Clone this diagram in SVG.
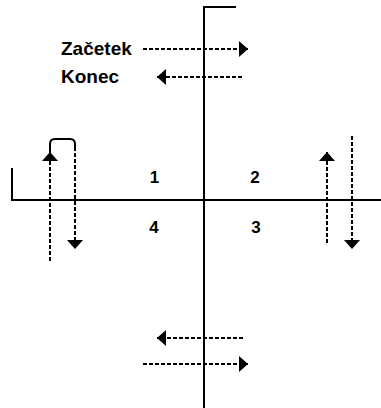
<svg xmlns="http://www.w3.org/2000/svg" width="381" height="408" viewBox="0 0 381 408">
<style>
.axis{stroke:#000;stroke-width:2;fill:none}
.dash{stroke:#000;stroke-width:2;fill:none;stroke-dasharray:4 2;marker-end:url(#ah)}
.plain{stroke:#000;stroke-width:2;fill:none}
.lbl{font-family:"Liberation Sans",Arial,sans-serif;font-weight:bold;fill:#000}
</style>
<defs>
<marker id="ah" markerUnits="userSpaceOnUse" markerWidth="10" markerHeight="17" refX="9" refY="8" orient="auto" viewBox="0 0 10 17">
<path d="M0,0 L9,8 L0,16 z" fill="#000"/>
</marker>
</defs>
<rect width="381" height="408" fill="#fff"/>
<g id="axes">
<path class="axis" d="M236,7 H204 V408"/>
<path class="axis" d="M12,168 V200 H381"/>
</g>
<g id="labels">
<text class="lbl" x="61" y="55" font-size="19">Začetek</text>
<text class="lbl" x="61" y="83" font-size="19">Konec</text>
</g>
<g id="q1"><text class="lbl" x="154.5" y="183" font-size="17" text-anchor="middle">1</text></g>
<g id="q2"><text class="lbl" x="255" y="183" font-size="17" text-anchor="middle">2</text></g>
<g id="q3"><text class="lbl" x="256" y="233" font-size="17" text-anchor="middle">3</text></g>
<g id="q4"><text class="lbl" x="154" y="233" font-size="17" text-anchor="middle">4</text></g>
<g id="connectors">
<line class="dash" x1="143" y1="49" x2="248" y2="49"/>
<line class="dash" x1="242" y1="77" x2="157" y2="77"/>
<line class="dash" x1="50" y1="261" x2="50" y2="152"/>
<path class="plain" d="M50,153 V144 Q50,139 55,139 H70 Q75,139 75,144 V147"/>
<line class="dash" x1="75" y1="147" x2="75" y2="249"/>
<line class="dash" x1="327" y1="243" x2="327" y2="152"/>
<line class="dash" x1="352" y1="136" x2="352" y2="249"/>
<line class="dash" x1="243" y1="338" x2="157" y2="338"/>
<line class="dash" x1="143" y1="364" x2="248" y2="364"/>
</g>
</svg>
